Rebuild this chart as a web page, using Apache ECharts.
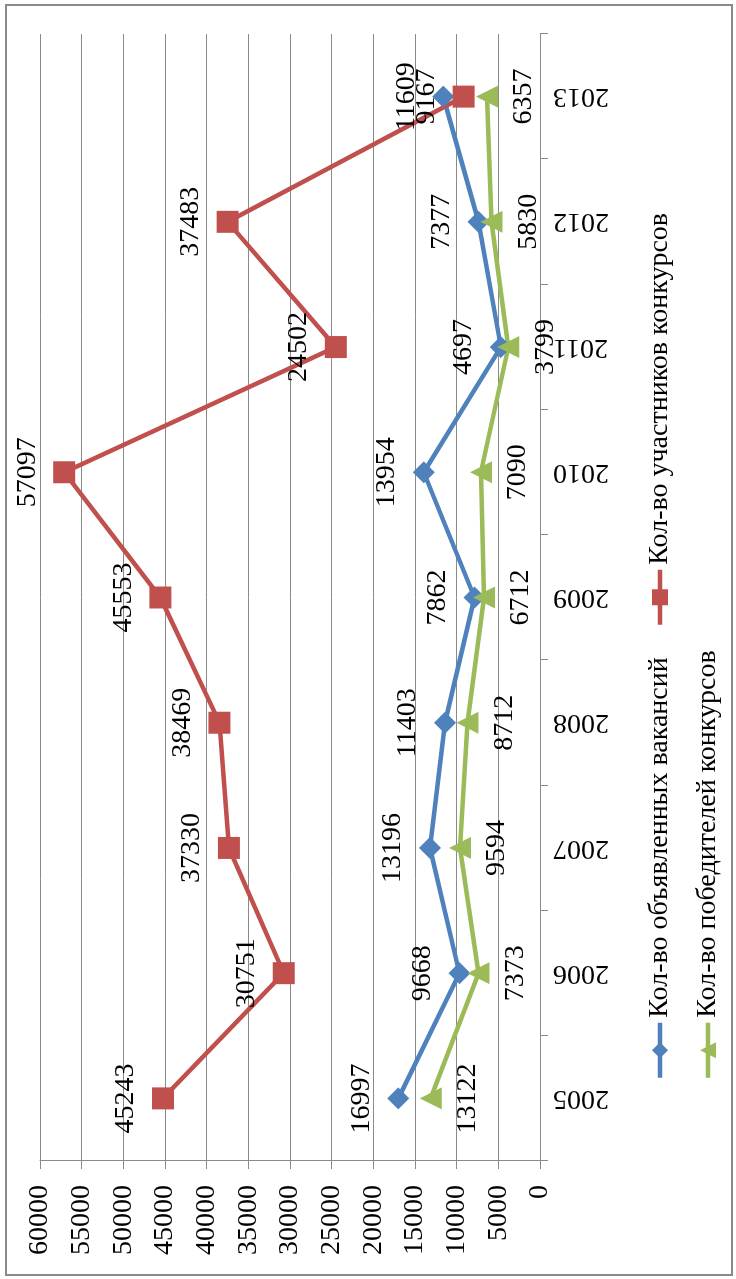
<!DOCTYPE html>
<html>
<head>
<meta charset="utf-8">
<script src="https://cdn.jsdelivr.net/npm/echarts@6/dist/echarts.min.js"></script>
<style>
  html, body { margin: 0; padding: 0; background: #fff; overflow: hidden; }
  body { width: 736px; height: 1279px; position: relative; }
  /* the chart is laid out landscape and turned a quarter turn, like the source */
  #chart {
    position: absolute; left: 0; top: 0;
    width: 1279px; height: 736px;
    transform-origin: 0 0;
    transform: translate(0, 1279px) rotate(-90deg);
  }
  #frame {
    position: absolute; left: 5px; top: 4px;
    width: 724px; height: 1268px;
    border: 2px solid #8a8a8a;
    pointer-events: none;
  }
</style>
</head>
<body>
<div id="chart"></div>
<div id="frame"></div>
<script>
const years = ['2005', '2006', '2007', '2008', '2009', '2010', '2011', '2012', '2013']
const vacancies = [16997, 9668, 13196, 11403, 7862, 13954, 4697, 7377, 11609]
const participants = [45243, 30751, 37330, 38469, 45553, 57097, 24502, 37483, 9167]
const winners = [13122, 7373, 9594, 8712, 6712, 7090, 3799, 5830, 6357]

const names = ['Кол-во объявленных вакансий', 'Кол-во участников конкурсов', 'Кол-во победителей конкурсов']
const font = "'Liberation Serif', 'Times New Roman', serif"
const gray = '#8a8a8a'

const chart = echarts.init(document.getElementById('chart'), null, { renderer: 'canvas' })

function lineSeries(name, data, color, symbol, labelPos) {
  return {
    name,
    type: 'line',
    data,
    symbol,
    symbolSize: 22,
    showAllSymbol: true,
    lineStyle: { color, width: 4.5 },
    itemStyle: { color },
    label: {
      show: true,
      position: labelPos,
      distance: 12,
      color: '#000',
      fontFamily: font,
      fontSize: 28,
    },
    emphasis: { disabled: true },
    animation: false,
  }
}

function legendAt(name, left, top) {
  return {
    data: [name],
    left,
    top,
    itemWidth: 55,
    itemHeight: 20,
    lineStyle: { width: 4.5 },
    textStyle: { fontFamily: font, fontSize: 28, color: '#000' },
  }
}

chart.setOption({
  backgroundColor: '#fff',
  animation: false,
  grid: { left: 118, right: 34, top: 40, bottom: 196 },
  legend: [
    legendAt(names[0], 194, 641),
    legendAt(names[1], 647, 641),
    legendAt(names[2], 194, 689),
  ],
  xAxis: {
    type: 'category',
    data: years,
    boundaryGap: true,
    axisLine: { lineStyle: { color: gray, width: 1 } },
    axisTick: { show: true, length: 8, lineStyle: { color: gray } },
    axisLabel: {
      rotate: 90,
      margin: 13,
      color: '#000',
      fontFamily: font,
      fontSize: 28,
    },
    splitLine: { show: false },
  },
  yAxis: {
    type: 'value',
    min: 0,
    max: 60000,
    interval: 5000,
    axisLine: { show: true, lineStyle: { color: gray, width: 1 } },
    axisTick: { show: true, length: 8, lineStyle: { color: gray } },
    axisLabel: {
      margin: 24,
      color: '#000',
      fontFamily: font,
      fontSize: 28,
      formatter: v => String(v),
    },
    splitLine: { show: true, lineStyle: { color: gray, width: 1 } },
  },
  series: [
    lineSeries(names[0], vacancies, '#4F81BD', 'diamond', 'top'),
    lineSeries(names[1], participants, '#C0504D', 'rect', 'top'),
    lineSeries(names[2], winners, '#9BBB59', 'triangle', 'bottom'),
  ],
})
</script>
</body>
</html>
